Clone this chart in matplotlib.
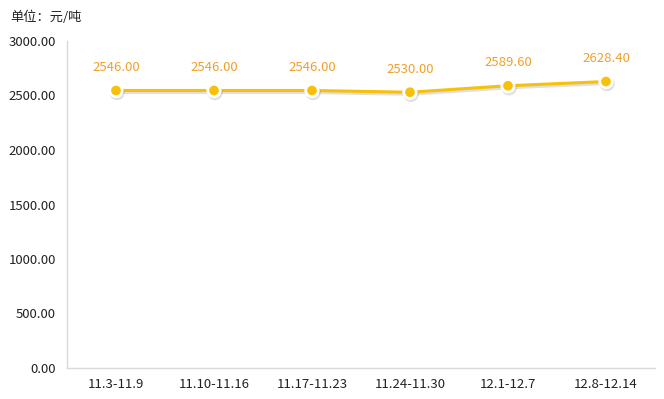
import matplotlib
matplotlib.use('Agg')
import matplotlib.pyplot as plt
import matplotlib.patheffects as pe

plt.rcParams['font.family'] = ['Noto Sans CJK SC', 'DejaVu Sans']

weeks = ['11.3-11.9', '11.10-11.16', '11.17-11.23', '11.24-11.30', '12.1-12.7', '12.8-12.14']
prices = [2546.00, 2546.00, 2546.00, 2530.00, 2589.60, 2628.40]
yticks = [0, 500, 1000, 1500, 2000, 2500, 3000]

lineColor = '#F7C10A'
labelColor = '#F0A02A'

fig = plt.figure(figsize=(6.64, 3.99), dpi=100)
ax = fig.add_axes([67/664, 31/399, 588/664, 327/399])

x = list(range(len(weeks)))
shadow = [pe.SimpleLineShadow(offset=(0.8, -1.5), shadow_color='#000000', alpha=0.12), pe.Normal()]
ax.plot(x, prices, color=lineColor, lw=2.2, zorder=3, path_effects=shadow)
ax.plot(x, prices, ls='none', marker='o', ms=9, mfc=lineColor, mec='white', mew=2, zorder=4,
        path_effects=shadow)

for i, v in enumerate(prices):
	ax.text(i, v + 150, '%.2f' % v, color=labelColor, fontsize=9.5, ha='center', va='bottom')

ax.set_xlim(-0.5, len(weeks) - 0.5)
ax.set_ylim(0, 3000)
ax.set_xticks(x)
ax.set_xticklabels(weeks, fontsize=9.5, color='#222222')
ax.set_yticks(yticks)
ax.set_yticklabels(['%.2f' % t for t in yticks], fontsize=9.5, color='#222222')
ax.tick_params(length=0, pad=7)
ax.tick_params(axis='y', pad=8)

for s in ['top', 'right']:
	ax.spines[s].set_visible(False)
for s in ['left', 'bottom']:
	ax.spines[s].set_color('#D9D9D9')
	ax.spines[s].set_linewidth(1)

fig.text(10/664, 1 - 17/399, '单位：元/吨', fontsize=9.5, color='#222222', va='center', ha='left')

fig.savefig('out.png', dpi=100)
